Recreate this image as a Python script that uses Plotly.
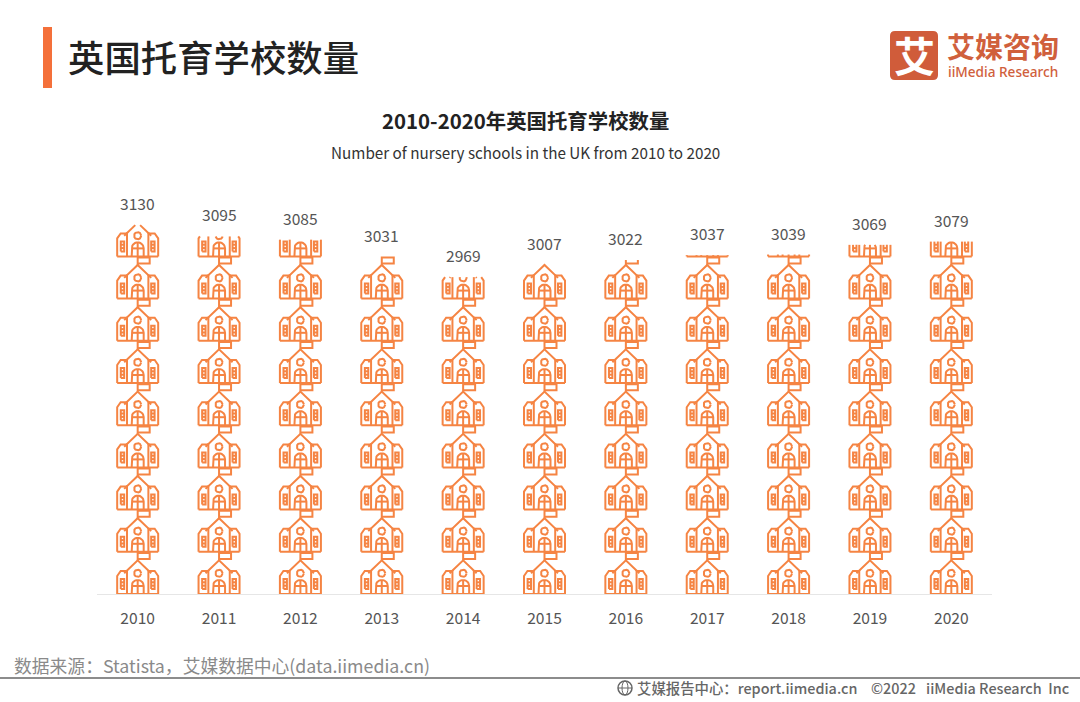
import math
import plotly.graph_objects as go

years = [2010, 2011, 2012, 2013, 2014, 2015, 2016, 2017, 2018, 2019, 2020]
schools = [3130, 3095, 3085, 3031, 2969, 3007, 3022, 3037, 3039, 3069, 3079]

W, H = 1080, 702
ML, MR, MT, MB = 97, 88, 190, 108
PX_PER_UNIT = 0.323
Y_MIN = 1988
Y_MAX = Y_MIN + (H - MT - MB) / PX_PER_UNIT
CELL_PX = 42.2
COL_PX = (W - ML - MR) / len(years)
ORANGE = "#F58443"

def arc(cx, cy, r, a0, a1, n=14):
    return [(cx + r * math.cos(math.radians(a0 + (a1 - a0) * i / n)),
             cy + r * math.sin(math.radians(a0 + (a1 - a0) * i / n))) for i in range(n + 1)]

# glyph of one school, in px relative to base centre
GLYPH = [
    [(-20.5, 0), (20.5, 0)],
    [(-20.5, 0), (-20.5, 18), (-17, 23), (-10.7, 23)],
    [(20.5, 0), (20.5, 18), (17, 23), (10.7, 23)],
    [(-10.7, 0), (-10.7, 24)],
    [(10.7, 0), (10.7, 24)],
    [(-13.5, 20.7), (0, 33.6), (13.5, 20.7)],
    [(0, 33.6), (0, 41), (12, 41), (12, 35), (0, 35)],
    arc(0, 20.7, 3.6, 0, 360),
    [(-6, 0), (-6, 8)] + arc(0, 8, 6, 180, 0) + [(6, 0)],
    [(0, 0), (0, 14)],
    [(-6, 8), (6, 8)],
    [(-16.9, 5), (-13.5, 5), (-13.5, 15), (-16.9, 15), (-16.9, 5)],
    [(-16.9, 8.3), (-13.5, 8.3)],
    [(-16.9, 11.7), (-13.5, 11.7)],
    [(13.5, 5), (16.9, 5), (16.9, 15), (13.5, 15), (13.5, 5)],
    [(13.5, 8.3), (16.9, 8.3)],
    [(13.5, 11.7), (16.9, 11.7)],
]

def clip_segment(p, q, top):
    (x0, y0), (x1, y1) = p, q
    if y0 > top and y1 > top:
        return None
    if y0 > top:
        t = (top - y1) / (y0 - y1)
        x0, y0 = x1 + (x0 - x1) * t, top
    if y1 > top:
        t = (top - y0) / (y1 - y0)
        x1, y1 = x0 + (x1 - x0) * t, top
    return (x0, y0), (x1, y1)

def pictorial(year, value):
    top_px = (value - Y_MIN) * PX_PER_UNIT
    xs, ys = [], []
    n = math.ceil(top_px / CELL_PX)
    for k in range(n):
        for line in GLYPH:
            for p, q in zip(line, line[1:]):
                seg = clip_segment((p[0], p[1] + k * CELL_PX), (q[0], q[1] + k * CELL_PX), top_px)
                if seg is None:
                    continue
                start = (year + seg[0][0] / COL_PX, Y_MIN + seg[0][1] / PX_PER_UNIT)
                if not (xs and xs[-1] is not None and (xs[-1], ys[-1]) == start):
                    if xs:
                        xs.append(None); ys.append(None)
                    xs.append(start[0]); ys.append(start[1])
                xs.append(year + seg[1][0] / COL_PX); ys.append(Y_MIN + seg[1][1] / PX_PER_UNIT)
    return xs, ys

fig = go.Figure()
for yr, v in zip(years, schools):
    xs, ys = pictorial(yr, v)
    fig.add_trace(go.Scatter(x=xs, y=ys, mode="lines", name=str(yr),
                             line=dict(color=ORANGE, width=2), hoverinfo="skip", showlegend=False))

PW, PH = W - ML - MR, H - MT - MB
def px(x): return (x - ML) / PW
def py(y): return 1 - (y - MT) / PH

CJK = "Noto Sans CJK SC"
anns = []
for yr, v in zip(years, schools):
    anns.append(dict(x=yr, y=v, xref="x", yref="y", text=str(v), showarrow=False, yshift=22,
                     font=dict(family=CJK, size=15.6, color="#555555")))

def label(x, y, text, size, color, anchor="left", weight=None, family=CJK):
    font = dict(family=family, size=size, color=color)
    if weight:
        font["weight"] = weight
    anns.append(dict(x=px(x), y=py(y), xref="paper", yref="paper", text=text, showarrow=False,
                     xanchor=anchor, yanchor="middle", font=font))

label(65.5, 55.5, "英国托育学校数量", 36.4, "#222222", weight=500)
label(525, 120, "2010-2020年英国托育学校数量", 20.4, "#222222", "center", weight=700)
label(525, 152, "Number of nursery schools in the UK from 2010 to 2020", 15.25, "#333333", "center")
label(12, 664.5, "数据来源：Statista，艾媒数据中心(data.iimedia.cn)", 17.8, "#8A8A8A")
label(635, 687.5, "艾媒报告中心：report.iimedia.cn", 14.4, "#666666", weight=500)
label(869, 687.5, "©2022", 14.4, "#666666", weight=500)
label(924, 687.5, "iiMedia Research  Inc", 14.4, "#666666", weight=500)
label(914, 54, "艾", 41, "#FFFFFF", "center", weight=700)
label(1002.5, 46, "艾媒咨询", 28, "#D0603C", "center", weight=700)
label(1003, 71.5, "iiMedia Research", 13.6, "#D0603C", "center", weight=500, family="Noto Sans")

def rect(x0, y0, x1, y1, color):
    return dict(type="rect", xref="paper", yref="paper", x0=px(x0), x1=px(x1), y0=py(y0), y1=py(y1),
                fillcolor=color, line=dict(width=0), layer="below")

def rrect_path(x0, y0, x1, y1, r):
    X = px
    Y = py
    return (f"M{X(x0+r)},{Y(y0)} L{X(x1-r)},{Y(y0)} Q{X(x1)},{Y(y0)} {X(x1)},{Y(y0+r)} "
            f"L{X(x1)},{Y(y1-r)} Q{X(x1)},{Y(y1)} {X(x1-r)},{Y(y1)} L{X(x0+r)},{Y(y1)} "
            f"Q{X(x0)},{Y(y1)} {X(x0)},{Y(y1-r)} L{X(x0)},{Y(y0+r)} Q{X(x0)},{Y(y0)} {X(x0+r)},{Y(y0)} Z")

shapes = [
    rect(43, 27, 52, 88, "#F4703A"),
    rect(0, 677, W, 679, "#8C8C8C"),
    dict(type="path", xref="paper", yref="paper", path=rrect_path(890, 31, 938, 80, 5),
         fillcolor="#D05C3A", line=dict(width=0), layer="below"),
    dict(type="circle", xref="paper", yref="paper", x0=px(618), x1=px(632), y0=py(681), y1=py(695),
         line=dict(color="#666666", width=1.5)),
    dict(type="circle", xref="paper", yref="paper", x0=px(622), x1=px(628), y0=py(681), y1=py(695),
         line=dict(color="#666666", width=1)),
    dict(type="line", xref="paper", yref="paper", x0=px(618), x1=px(632), y0=py(688), y1=py(688),
         line=dict(color="#666666", width=1)),
]

fig.update_layout(
    width=W, height=H, margin=dict(l=ML, r=MR, t=MT, b=MB, pad=0),
    paper_bgcolor="white", plot_bgcolor="white", showlegend=False,
    annotations=anns, shapes=shapes,
    xaxis=dict(range=[years[0] - 0.5, years[-1] + 0.5], tickmode="array", tickvals=years,
               ticktext=[str(y) for y in years], showgrid=False, zeroline=False,
               showline=True, linecolor="#E6E6E6", linewidth=1, ticks="", ticklabelstandoff=10,
               tickfont=dict(family=CJK, size=15.6, color="#555555")),
    yaxis=dict(range=[Y_MIN, Y_MAX], visible=False, showgrid=False, zeroline=False),
)
fig.write_html("out.html", config=dict(displayModeBar=False),
               post_script="document.body.style.margin='0';")
